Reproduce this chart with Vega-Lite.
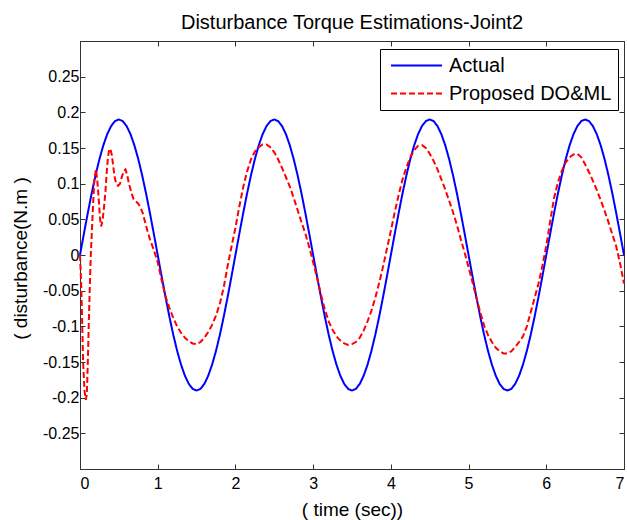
{
 "$schema": "https://vega.github.io/schema/vega-lite/v6.json",
 "width": 544, "height": 428,
 "autosize": {"type": "none"},
 "padding": {"left": 80, "top": 41, "right": 3, "bottom": 51},
 "background": "white",
 "title": {"text": "Disturbance Torque Estimations-Joint2", "fontSize": 20, "font": "Liberation Sans", "fontWeight": "normal", "color": "black", "offset": 8, "anchor": "middle"},
 "config": {
  "view": {"stroke": "#333", "strokeWidth": 1},
  "font": "Liberation Sans",
  "axis": {"domainColor": "#333", "tickColor": "#333", "tickSize": -5, "labelFontSize": 16, "labelColor": "black", "titleFontSize": 19, "titleFontWeight": "normal", "titleColor": "black", "grid": false, "labelFont": "Liberation Sans", "titleFont": "Liberation Sans"},
  "legend": {"orient": "none", "legendX": 300, "legendY": 8, "strokeColor": "black", "fillColor": "white", "padding": 6, "labelFontSize": 20, "labelFont": "Liberation Sans", "labelColor": "black", "labelLimit": 400, "symbolType": "M-0.579,0H4.79", "symbolSize": 361, "symbolStrokeWidth": 2, "labelOffset": 42, "rowPadding": 7, "cornerRadius": 0}
 },
 "datasets": {
  "actual": [
   {"t":0,"v":0},{"t":0.05,"v":0.0297},{"t":0.1,"v":0.0587},{"t":0.15,"v":0.0863},{"t":0.2,"v":0.1117},{"t":0.25,"v":0.1344},{"t":0.3,"v":0.1537},{"t":0.35,"v":0.1693},{"t":0.4,"v":0.1807},{"t":0.45,"v":0.1877},{"t":0.5,"v":0.19},{"t":0.55,"v":0.1877},{"t":0.6,"v":0.1807},{"t":0.65,"v":0.1693},{"t":0.7,"v":0.1537},{"t":0.75,"v":0.1344},{"t":0.8,"v":0.1117},{"t":0.85,"v":0.0863},{"t":0.9,"v":0.0587},{"t":0.95,"v":0.0297},
   {"t":1,"v":0},{"t":1.05,"v":-0.0297},{"t":1.1,"v":-0.0587},{"t":1.15,"v":-0.0863},{"t":1.2,"v":-0.1117},{"t":1.25,"v":-0.1344},{"t":1.3,"v":-0.1537},{"t":1.35,"v":-0.1693},{"t":1.4,"v":-0.1807},{"t":1.45,"v":-0.1877},{"t":1.5,"v":-0.19},{"t":1.55,"v":-0.1877},{"t":1.6,"v":-0.1807},{"t":1.65,"v":-0.1693},{"t":1.7,"v":-0.1537},{"t":1.75,"v":-0.1344},{"t":1.8,"v":-0.1117},{"t":1.85,"v":-0.0863},{"t":1.9,"v":-0.0587},{"t":1.95,"v":-0.0297},
   {"t":2,"v":0},{"t":2.05,"v":0.0297},{"t":2.1,"v":0.0587},{"t":2.15,"v":0.0863},{"t":2.2,"v":0.1117},{"t":2.25,"v":0.1344},{"t":2.3,"v":0.1537},{"t":2.35,"v":0.1693},{"t":2.4,"v":0.1807},{"t":2.45,"v":0.1877},{"t":2.5,"v":0.19},{"t":2.55,"v":0.1877},{"t":2.6,"v":0.1807},{"t":2.65,"v":0.1693},{"t":2.7,"v":0.1537},{"t":2.75,"v":0.1344},{"t":2.8,"v":0.1117},{"t":2.85,"v":0.0863},{"t":2.9,"v":0.0587},{"t":2.95,"v":0.0297},
   {"t":3,"v":0},{"t":3.05,"v":-0.0297},{"t":3.1,"v":-0.0587},{"t":3.15,"v":-0.0863},{"t":3.2,"v":-0.1117},{"t":3.25,"v":-0.1344},{"t":3.3,"v":-0.1537},{"t":3.35,"v":-0.1693},{"t":3.4,"v":-0.1807},{"t":3.45,"v":-0.1877},{"t":3.5,"v":-0.19},{"t":3.55,"v":-0.1877},{"t":3.6,"v":-0.1807},{"t":3.65,"v":-0.1693},{"t":3.7,"v":-0.1537},{"t":3.75,"v":-0.1344},{"t":3.8,"v":-0.1117},{"t":3.85,"v":-0.0863},{"t":3.9,"v":-0.0587},{"t":3.95,"v":-0.0297},
   {"t":4,"v":0},{"t":4.05,"v":0.0297},{"t":4.1,"v":0.0587},{"t":4.15,"v":0.0863},{"t":4.2,"v":0.1117},{"t":4.25,"v":0.1344},{"t":4.3,"v":0.1537},{"t":4.35,"v":0.1693},{"t":4.4,"v":0.1807},{"t":4.45,"v":0.1877},{"t":4.5,"v":0.19},{"t":4.55,"v":0.1877},{"t":4.6,"v":0.1807},{"t":4.65,"v":0.1693},{"t":4.7,"v":0.1537},{"t":4.75,"v":0.1344},{"t":4.8,"v":0.1117},{"t":4.85,"v":0.0863},{"t":4.9,"v":0.0587},{"t":4.95,"v":0.0297},
   {"t":5,"v":0},{"t":5.05,"v":-0.0297},{"t":5.1,"v":-0.0587},{"t":5.15,"v":-0.0863},{"t":5.2,"v":-0.1117},{"t":5.25,"v":-0.1344},{"t":5.3,"v":-0.1537},{"t":5.35,"v":-0.1693},{"t":5.4,"v":-0.1807},{"t":5.45,"v":-0.1877},{"t":5.5,"v":-0.19},{"t":5.55,"v":-0.1877},{"t":5.6,"v":-0.1807},{"t":5.65,"v":-0.1693},{"t":5.7,"v":-0.1537},{"t":5.75,"v":-0.1344},{"t":5.8,"v":-0.1117},{"t":5.85,"v":-0.0863},{"t":5.9,"v":-0.0587},{"t":5.95,"v":-0.0297},
   {"t":6,"v":0},{"t":6.05,"v":0.0297},{"t":6.1,"v":0.0587},{"t":6.15,"v":0.0863},{"t":6.2,"v":0.1117},{"t":6.25,"v":0.1344},{"t":6.3,"v":0.1537},{"t":6.35,"v":0.1693},{"t":6.4,"v":0.1807},{"t":6.45,"v":0.1877},{"t":6.5,"v":0.19},{"t":6.55,"v":0.1877},{"t":6.6,"v":0.1807},{"t":6.65,"v":0.1693},{"t":6.7,"v":0.1537},{"t":6.75,"v":0.1344},{"t":6.8,"v":0.1117},{"t":6.85,"v":0.0863},{"t":6.9,"v":0.0587},{"t":6.95,"v":0.0297},
   {"t":7,"v":0}
  ],
  "est": [
   {"t":0,"v":0},{"t":0.015,"v":-0.04},{"t":0.026,"v":-0.085},{"t":0.04,"v":-0.15},{"t":0.058,"v":-0.19},{"t":0.075,"v":-0.203},{"t":0.088,"v":-0.195},{"t":0.1,"v":-0.152},{"t":0.112,"v":-0.1},{"t":0.122,"v":-0.06},{"t":0.138,"v":-0.002},{"t":0.163,"v":0.058},{"t":0.184,"v":0.105},{"t":0.205,"v":0.12},{"t":0.222,"v":0.105},{"t":0.24,"v":0.08},{"t":0.257,"v":0.052},{"t":0.272,"v":0.04},{"t":0.29,"v":0.048},{"t":0.31,"v":0.068},{"t":0.328,"v":0.09},{"t":0.345,"v":0.118},{"t":0.36,"v":0.137},{"t":0.377,"v":0.149},{"t":0.393,"v":0.148},{"t":0.41,"v":0.14},{"t":0.427,"v":0.125},{"t":0.445,"v":0.11},{"t":0.465,"v":0.1},{"t":0.49,"v":0.097},{"t":0.515,"v":0.1},{"t":0.54,"v":0.11},{"t":0.565,"v":0.118},{"t":0.585,"v":0.12},{"t":0.605,"v":0.113},{"t":0.63,"v":0.1},{"t":0.66,"v":0.088},{"t":0.69,"v":0.078},{"t":0.72,"v":0.075},{"t":0.75,"v":0.072},{"t":0.78,"v":0.066},{"t":0.81,"v":0.058},{"t":0.84,"v":0.045},{"t":0.87,"v":0.033},{"t":0.9,"v":0.022},{"t":0.95,"v":0.007},
   {"t":1,"v":-0.01},{"t":1.05,"v":-0.035},{"t":1.1,"v":-0.058},{"t":1.15,"v":-0.074},{"t":1.2,"v":-0.088},{"t":1.25,"v":-0.1},{"t":1.3,"v":-0.109},{"t":1.35,"v":-0.116},{"t":1.4,"v":-0.121},{"t":1.45,"v":-0.124},{"t":1.5,"v":-0.125},{"t":1.55,"v":-0.122},{"t":1.6,"v":-0.116},{"t":1.65,"v":-0.108},{"t":1.7,"v":-0.098},{"t":1.75,"v":-0.085},{"t":1.8,"v":-0.068},{"t":1.85,"v":-0.045},{"t":1.9,"v":-0.015},{"t":1.95,"v":0.012},
   {"t":2,"v":0.038},{"t":2.05,"v":0.068},{"t":2.1,"v":0.095},{"t":2.15,"v":0.117},{"t":2.2,"v":0.134},{"t":2.25,"v":0.145},{"t":2.3,"v":0.151},{"t":2.35,"v":0.155},{"t":2.4,"v":0.155},{"t":2.45,"v":0.151},{"t":2.5,"v":0.144},{"t":2.55,"v":0.134},{"t":2.6,"v":0.122},{"t":2.65,"v":0.109},{"t":2.7,"v":0.096},{"t":2.75,"v":0.08},{"t":2.8,"v":0.063},{"t":2.85,"v":0.046},{"t":2.9,"v":0.03},{"t":2.95,"v":0.011},
   {"t":3,"v":-0.01},{"t":3.05,"v":-0.032},{"t":3.1,"v":-0.055},{"t":3.15,"v":-0.076},{"t":3.2,"v":-0.093},{"t":3.25,"v":-0.105},{"t":3.3,"v":-0.114},{"t":3.35,"v":-0.12},{"t":3.4,"v":-0.124},{"t":3.45,"v":-0.126},{"t":3.5,"v":-0.125},{"t":3.55,"v":-0.122},{"t":3.6,"v":-0.116},{"t":3.65,"v":-0.106},{"t":3.7,"v":-0.093},{"t":3.75,"v":-0.078},{"t":3.8,"v":-0.06},{"t":3.85,"v":-0.039},{"t":3.9,"v":-0.016},{"t":3.95,"v":0.009},
   {"t":4,"v":0.034},{"t":4.05,"v":0.06},{"t":4.1,"v":0.084},{"t":4.15,"v":0.106},{"t":4.2,"v":0.123},{"t":4.25,"v":0.137},{"t":4.3,"v":0.147},{"t":4.35,"v":0.153},{"t":4.4,"v":0.154},{"t":4.45,"v":0.15},{"t":4.5,"v":0.142},{"t":4.55,"v":0.132},{"t":4.6,"v":0.12},{"t":4.65,"v":0.106},{"t":4.7,"v":0.092},{"t":4.75,"v":0.076},{"t":4.8,"v":0.06},{"t":4.85,"v":0.042},{"t":4.9,"v":0.022},{"t":4.95,"v":0.003},
   {"t":5,"v":-0.017},{"t":5.05,"v":-0.038},{"t":5.1,"v":-0.06},{"t":5.15,"v":-0.08},{"t":5.2,"v":-0.099},{"t":5.25,"v":-0.112},{"t":5.3,"v":-0.122},{"t":5.35,"v":-0.13},{"t":5.4,"v":-0.135},{"t":5.45,"v":-0.138},{"t":5.5,"v":-0.138},{"t":5.55,"v":-0.135},{"t":5.6,"v":-0.129},{"t":5.65,"v":-0.122},{"t":5.7,"v":-0.114},{"t":5.75,"v":-0.1},{"t":5.8,"v":-0.08},{"t":5.85,"v":-0.06},{"t":5.9,"v":-0.04},{"t":5.95,"v":-0.015},
   {"t":6,"v":0.013},{"t":6.05,"v":0.047},{"t":6.1,"v":0.08},{"t":6.15,"v":0.102},{"t":6.2,"v":0.118},{"t":6.25,"v":0.13},{"t":6.3,"v":0.137},{"t":6.35,"v":0.141},{"t":6.4,"v":0.142},{"t":6.45,"v":0.137},{"t":6.5,"v":0.127},{"t":6.55,"v":0.116},{"t":6.6,"v":0.104},{"t":6.65,"v":0.091},{"t":6.7,"v":0.077},{"t":6.75,"v":0.062},{"t":6.8,"v":0.046},{"t":6.85,"v":0.029},{"t":6.9,"v":0.012},{"t":6.95,"v":-0.012},{"t":7,"v":-0.04}
  ]
 },
 "layer": [
  {
   "data": {"name": "actual"},
   "mark": {"type": "line", "strokeWidth": 2},
   "encoding": {
    "x": {"field": "t", "type": "quantitative", "scale": {"domain": [0, 7], "nice": false, "zero": false},
          "axis": {"orient": "bottom", "values": [0,1,2,3,4,5,6,7], "title": "( time (sec))", "labelPadding": 11, "titleX": 272, "titleY": 40, "titleBaseline": "middle"}},
    "y": {"field": "v", "type": "quantitative", "scale": {"domain": [-0.3, 0.3], "nice": false, "zero": false},
          "axis": {"orient": "left", "values": [-0.25,-0.2,-0.15,-0.1,-0.05,0,0.05,0.1,0.15,0.2,0.25], "labelExpr": "toString(datum.value)", "title": "( disturbance(N.m )", "labelPadding": 6, "titleX": -60, "titleY": 217, "titleBaseline": "middle", "titleAngle": -90}},
    "color": {"datum": "Actual", "type": "nominal", "scale": {"domain": ["Actual", "Proposed DO&ML"], "range": ["#0000ff", "#ff0000"]}, "legend": {"title": null}},
    "strokeDash": {"datum": "Actual", "type": "nominal", "scale": {"domain": ["Actual", "Proposed DO&ML"], "range": [[1, 0], [6, 3]]}, "legend": {"title": null}}
   }
  },
  {
   "data": {"name": "est"},
   "mark": {"type": "line", "strokeWidth": 2},
   "encoding": {
    "x": {"field": "t", "type": "quantitative", "axis": {"orient": "top", "values": [0,1,2,3,4,5,6,7], "labels": false, "title": null}},
    "y": {"field": "v", "type": "quantitative", "axis": {"orient": "right", "values": [-0.25,-0.2,-0.15,-0.1,-0.05,0,0.05,0.1,0.15,0.2,0.25], "labels": false, "title": null}},
    "color": {"datum": "Proposed DO&ML", "type": "nominal", "legend": {"title": null}},
    "strokeDash": {"datum": "Proposed DO&ML", "type": "nominal", "legend": {"title": null}}
   }
  }
 ],
 "resolve": {"axis": {"x": "independent", "y": "independent"}}
}
